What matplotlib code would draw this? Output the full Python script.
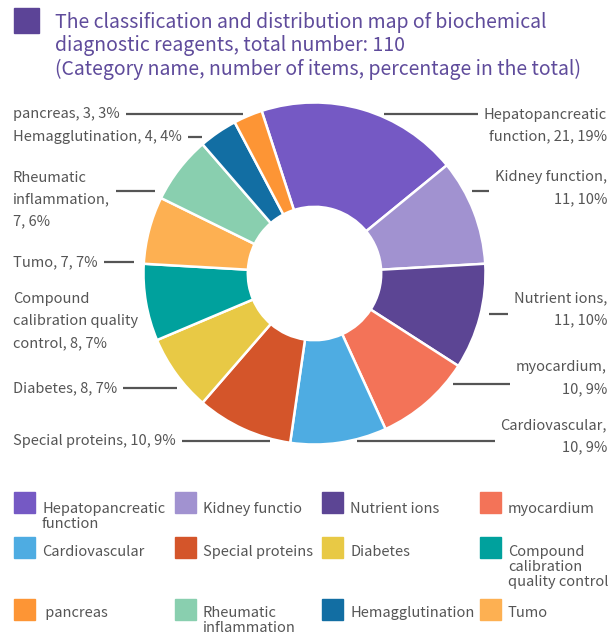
import numpy as np
import matplotlib.pyplot as plt
from matplotlib.patches import Rectangle

plt.rcParams['font.family'] = ['Noto Sans CJK SC', 'DejaVu Sans']

# Data, in pie order (clockwise from just left of the top)
categories = ["Hepatopancreatic function", "Kidney function", "Nutrient ions", "myocardium",
              "Cardiovascular", "Special proteins", "Diabetes",
              "Compound calibration quality control", "Tumo", "Rheumatic inflammation",
              "Hemagglutination", "pancreas"]
counts = [21, 11, 11, 10, 10, 10, 8, 8, 7, 7, 4, 3]
colors = ["#7559c4", "#a192d0", "#5c4594", "#f37358", "#4eace2", "#d4552a",
          "#e8c945", "#00a19d", "#fdb052", "#89cfaf", "#126ea3", "#fd9535"]

# label text as wrapped in the chart
label_names = ["Hepatopancreatic\nfunction", "Kidney function", "Nutrient ions", "myocardium",
               "Cardiovascular", "Special proteins", "Diabetes",
               "Compound\ncalibration quality\ncontrol", "Tumo", "Rheumatic\ninflammation",
               "Hemagglutination", "pancreas"]
label_seps = [", ", ",\n", ",\n", ",\n", ",\n", ", ", ", ", ", ", ", ", ",\n", ", ", ", "]

# legend (row by row, 4 per row)
legend_order = [0, 1, 2, 3, 4, 5, 6, 7, 11, 9, 10, 8]
legend_names = ["Hepatopancreatic\nfunction", "Kidney functio", "Nutrient ions", "myocardium",
                "Cardiovascular", "Special proteins", "Diabetes",
                "Compound\ncalibration\nquality control", " pancreas", "Rheumatic\ninflammation",
                "Hemagglutination", "Tumo"]

title = ("The classification and distribution map of biochemical\n"
         "diagnostic reagents, total number: 110\n"
         "(Category name, number of items, percentage in the total)")


def percents(vals):
    # largest remainder rounding so the labels add up to 100
    total = sum(vals)
    raw = [v * 100 / total for v in vals]
    out = [int(np.floor(r)) for r in raw]
    rem = [r - o for r, o in zip(raw, out)]
    while sum(out) < 100:
        best = 0
        for i in range(1, len(rem)):
            if rem[i] > rem[best]:
                best = i
        out[best] += 1
        rem[best] = -1
    return out


pcts = percents(counts)

# layout (pixels)
W, H = 610, 632
cx, cy, R = 314.5, 273.5, 171
start = 108
text_col = '#555555'

# label placement: side, text block centre y, leader line y
label_side = ['r', 'r', 'r', 'r', 'r', 'l', 'l', 'l', 'l', 'l', 'l', 'l']
label_ty = [125.5, 188, 309, 378, 436.5, 441, 388, 321, 262, 199.5, 137, 114]
label_ly = [114, 191, 314, 384, 441, 441, 388, 321, 262, 191, 137, 114]

fig = plt.figure(figsize=(W / 100, H / 100), dpi=100)

ax = fig.add_axes([(cx - R) / W, 1 - (cy + R) / H, 2 * R / W, 2 * R / H])
ax.pie(counts, colors=colors, startangle=start, counterclock=False, radius=1,
       wedgeprops=dict(width=0.61, edgecolor='white', linewidth=1.8))
ax.set_xlim(-1, 1)
ax.set_ylim(-1, 1)

ov = fig.add_axes([0, 0, 1, 1])
ov.set_xlim(0, W)
ov.set_ylim(H, 0)
ov.axis('off')

# title
ov.add_patch(Rectangle((14, 8), 25, 25, color='#5c4497'))
ov.text(55, 46, title, va='center', ha='left', fontsize=14, color='#5f4b9b',
        linespacing=1.12)

renderer = fig.canvas.get_renderer()

# outside labels with short leader lines
for i in range(len(counts)):
    txt = label_names[i] + label_seps[i] + f"{counts[i]}, {pcts[i]}%"
    if label_side[i] == 'r':
        t = ov.text(607, label_ty[i], txt, ha='right', va='center', fontsize=10.5,
                    color=text_col, linespacing=1.72, multialignment='right')
    else:
        t = ov.text(13, label_ty[i], txt, ha='left', va='center', fontsize=10.5,
                    color=text_col, linespacing=1.72, multialignment='left')
    bb = t.get_window_extent(renderer)
    dy = label_ly[i] - cy
    edge = np.sqrt(max(R ** 2 - dy ** 2, 0))
    if label_side[i] == 'r':
        x0 = cx + edge + 8
        x1 = bb.x0 - 6
    else:
        x0 = bb.x1 + 6
        x1 = cx - edge - 10
    if x1 > x0:
        ov.plot([x0, x1], [label_ly[i], label_ly[i]], color=text_col, lw=1.6,
                solid_capstyle='butt')

# legend
col_x = [14, 175, 322, 480]
row_top = [492, 537, 599]
text_top = [502, 545, 606]
for k, idx in enumerate(legend_order):
    r, c = divmod(k, 4)
    ov.add_patch(Rectangle((col_x[c], row_top[r]), 21, 21, color=colors[idx]))
    ov.text(col_x[c] + 28, text_top[r], legend_names[k], ha='left', va='top',
            fontsize=10.5, color=text_col, linespacing=1.1)

fig.savefig('out.png', dpi=100)
